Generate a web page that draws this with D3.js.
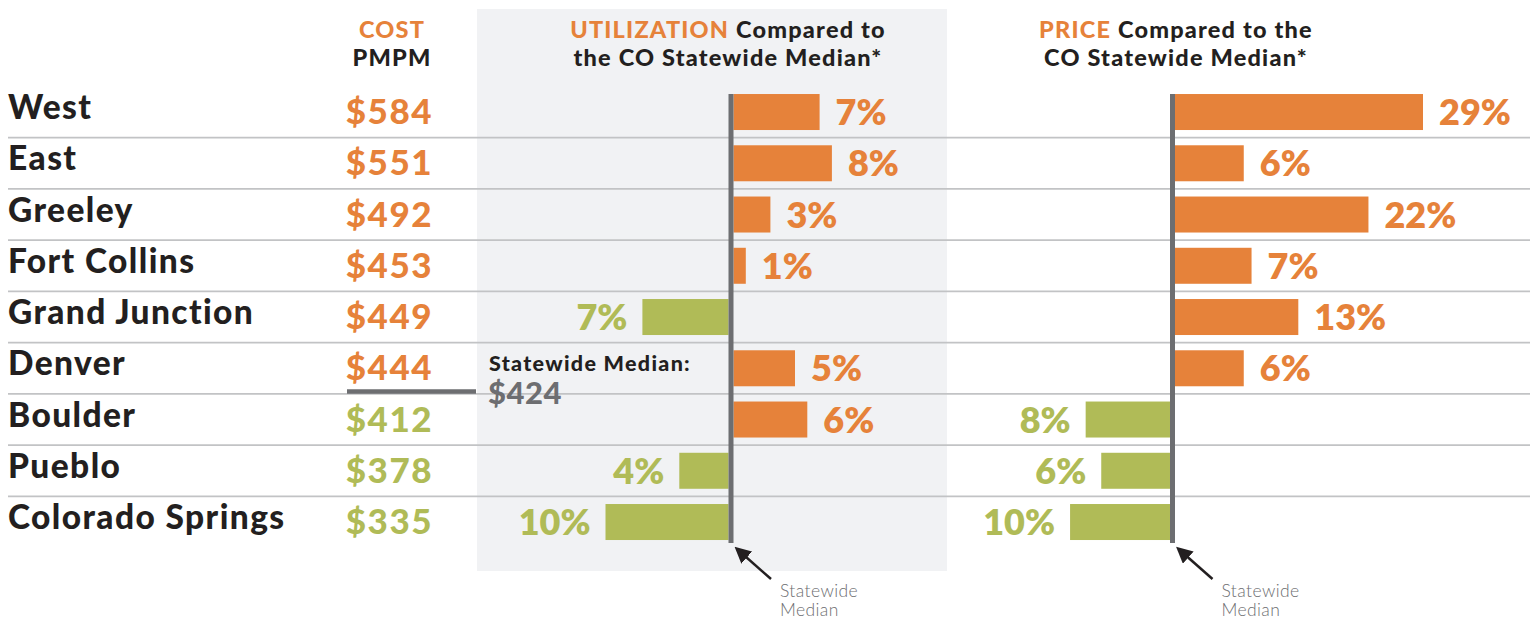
<!DOCTYPE html>
<html>
<head>
<meta charset="utf-8">
<script src="https://cdn.jsdelivr.net/npm/d3@7/dist/d3.min.js"></script>
<style>
  body { margin: 0; background: #fff; }
  svg { display: block; font-family: Lato, "Open Sans", sans-serif; }
</style>
</head>
<body>
<div id="chart-area"></div>
<script>

// Data
var regions = ["West", "East", "Greeley", "Fort Collins", "Grand Junction", "Denver", "Boulder", "Pueblo", "Colorado Springs"];
var costPMPM = [584, 551, 492, 453, 449, 444, 412, 378, 335];
var utilization = [7, 8, 3, 1, -7, 5, 6, -4, -10];
var price = [29, 6, 22, 7, 13, 6, -8, -6, -10];
var statewideMedian = 424;

var orange = "#e6823a",
    green = "#b0bb57",
    grey = "#6d6e71",
    dark = "#231f20";

var width = 1535, height = 619;

var svg = d3.select("#chart-area").append("svg")
    .attr("width", width)
    .attr("height", height);

// Rows
var y = d3.scaleBand()
    .domain(regions)
    .range([86.4, 86.4 + 9 * 51.25])
    .paddingInner(0.2976)
    .paddingOuter(0.1488);

var step = y.step();

// bar length scales
var uLen = d3.scaleLinear().domain([0, 10]).range([0, 123]);
var pLen = d3.scaleLinear().domain([0, 29]).range([22, 248]);

var uZero = 731, pZero = 1172.5;

// grey panel behind utilization
svg.append("rect")
    .attr("x", 477).attr("y", 9)
    .attr("width", 470).attr("height", 562)
    .attr("fill", "#f1f2f4");

// separator lines
svg.selectAll(".sep")
    .data(regions.slice(1))
    .enter().append("line")
    .attr("class", "sep")
    .attr("x1", 8).attr("x2", 1530)
    .attr("y1", function(d) { return y(d) - step * 0.1488; })
    .attr("y2", function(d) { return y(d) - step * 0.1488; })
    .attr("stroke", "#c2c3c5")
    .attr("stroke-width", 1.6);

// headers
function header(x, lines) {
    lines.forEach(function(parts, i) {
        var t = svg.append("text")
            .attr("x", x).attr("y", 38 + i * 28)
            .attr("text-anchor", "middle")
            .attr("font-size", 23.5)
            .attr("font-weight", 900)
            .attr("letter-spacing", 1.2);
        parts.forEach(function(p) {
            t.append("tspan").attr("fill", p[1]).text(p[0]);
        });
    });
}
header(392, [[["COST", orange]], [["PMPM", dark]]]);
header(728, [[["UTILIZATION", orange], [" Compared to", dark]], [["the CO Statewide Median*", dark]]]);
header(1176, [[["PRICE", orange], [" Compared to the", dark]], [["CO Statewide Median*", dark]]]);

// region names
svg.selectAll(".region")
    .data(regions)
    .enter().append("text")
    .attr("class", "region")
    .attr("x", 8)
    .attr("y", function(d) { return y(d) + y.bandwidth() / 2 + 7; })
    .attr("font-size", 33.5)
    .attr("font-weight", 900)
    .attr("letter-spacing", 1.4)
    .attr("fill", dark)
    .text(function(d) { return d; });

// cost values
svg.selectAll(".cost")
    .data(costPMPM)
    .enter().append("text")
    .attr("class", "cost")
    .attr("x", 433)
    .attr("y", function(d, i) { return y(regions[i]) + y.bandwidth() / 2 + 12; })
    .attr("text-anchor", "end")
    .attr("font-size", 35)
    .attr("font-weight", 900)
    .attr("letter-spacing", 1.5)
    .attr("fill", function(d) { return d > statewideMedian ? orange : green; })
    .text(function(d) { return "$" + d; });

// statewide median marker
svg.append("line")
    .attr("x1", 347).attr("x2", 476)
    .attr("y1", 391.5).attr("y2", 391.5)
    .attr("stroke", grey).attr("stroke-width", 4.5);

svg.append("text")
    .attr("x", 489).attr("y", 371)
    .attr("font-size", 21.5).attr("font-weight", 900).attr("letter-spacing", 1.3)
    .attr("fill", dark)
    .text("Statewide Median:");
svg.append("text")
    .attr("x", 488).attr("y", 404)
    .attr("font-size", 31).attr("font-weight", 900).attr("letter-spacing", 0.5)
    .attr("fill", grey)
    .text("$" + statewideMedian);

// diverging bars
function drawBars(values, zero, len, cls) {
    svg.selectAll("." + cls)
        .data(values)
        .enter().append("rect")
        .attr("class", cls)
        .attr("x", function(d) { return d >= 0 ? zero + 2.5 : zero - 2.5 - len(-d); })
        .attr("y", function(d, i) { return y(regions[i]); })
        .attr("width", function(d) { return len(Math.abs(d)); })
        .attr("height", y.bandwidth())
        .attr("fill", function(d) { return d >= 0 ? orange : green; });

    svg.selectAll("." + cls + "-label")
        .data(values)
        .enter().append("text")
        .attr("class", cls + "-label")
        .attr("x", function(d) { return d >= 0 ? zero + 2.5 + len(d) + 16 : zero - 2.5 - len(-d) - 15; })
        .attr("y", function(d, i) { return y(regions[i]) + y.bandwidth() / 2 + 13; })
        .attr("text-anchor", function(d) { return d >= 0 ? "start" : "end"; })
        .attr("font-size", 36)
        .attr("font-weight", 800)
        .attr("fill", function(d) { return d >= 0 ? orange : green; })
        .text(function(d) { return Math.abs(d) + "%"; });

    // median line
    svg.append("line")
        .attr("x1", zero).attr("x2", zero)
        .attr("y1", y(regions[0]))
        .attr("y2", y(regions[regions.length - 1]) + y.bandwidth() + 3)
        .attr("stroke", grey).attr("stroke-width", 5);
}
drawBars(utilization, uZero, uLen, "ubar");
drawBars(price, pZero, pLen, "pbar");

// arrows to median lines
svg.append("defs").append("marker")
    .attr("id", "head")
    .attr("viewBox", "0 0 10 10")
    .attr("refX", 8).attr("refY", 5)
    .attr("markerWidth", 6.5).attr("markerHeight", 6.5)
    .attr("orient", "auto")
    .append("path")
    .attr("d", "M0,0L10,5L0,10Z")
    .attr("fill", dark);

[uZero, pZero].forEach(function(z) {
    svg.append("line")
        .attr("x1", z + 40).attr("y1", 579)
        .attr("x2", z + 6).attr("y2", 549)
        .attr("stroke", dark).attr("stroke-width", 2.5)
        .attr("marker-end", "url(#head)");
    var t = svg.append("text")
        .attr("x", z + 49).attr("y", 597)
        .attr("font-size", 17.5).attr("font-weight", 300)
        .attr("letter-spacing", 0.4).attr("fill", grey);
    t.append("tspan").attr("x", z + 49).text("Statewide");
    t.append("tspan").attr("x", z + 49).attr("dy", 19).text("Median");
});

</script>
</body>
</html>
